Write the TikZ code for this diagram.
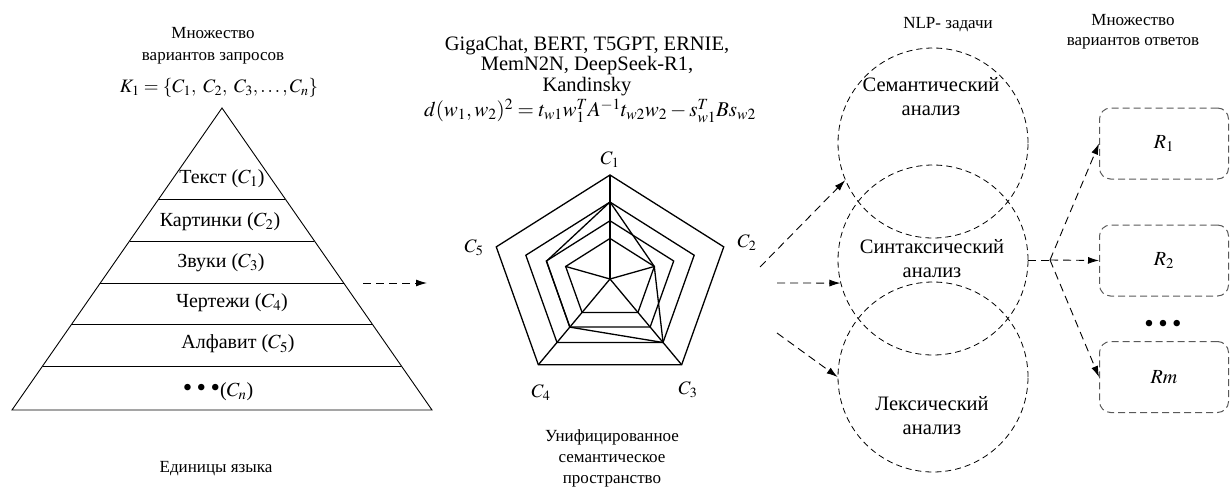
\documentclass[tikz,border=0pt]{standalone}
\usepackage{mathptmx}
\usepackage{fontspec}
\setmainfont{Liberation Serif}
\usetikzlibrary{arrows.meta, positioning, shapes.geometric, calc}

\newcommand{\bigdots}{{\fontsize{27}{27}\selectfont\textbullet\,\textbullet\,\textbullet}}

\begin{document}
\begin{tikzpicture}[x=1pt, y=-1pt, >={Latex[length=11pt, width=7pt]},
    lbl/.style={font=\fontsize{17}{21}\selectfont, align=center},
    layer/.style={font=\fontsize{20}{24}\selectfont, align=center},
    axis/.style={font=\fontsize{19}{21}\selectfont},
    dashline/.style={dash pattern=on 8pt off 5pt, line width=0.9pt},
    nlp/.style={circle, draw, dash pattern=on 6pt off 4pt, line width=0.8pt,
                minimum size=190pt, inner sep=0pt},
    resbox/.style={draw=black!65, dash pattern=on 7pt off 4pt, line width=1pt,
                   rounded corners=11pt, minimum width=129pt, minimum height=71pt,
                   font=\fontsize{20}{22}\selectfont},
    net/.style={line width=1.3pt, line join=miter}]
  \useasboundingbox (0,0) rectangle (1231,487);

  % Pyramid of language units
  \coordinate (apex) at (222,108);
  \coordinate (bl) at (12,410);
  \coordinate (br) at (432,410);
  \draw[line width=0.9pt] (apex) -- (bl) -- (br) -- cycle;
  \foreach \y in {199,241,283,324,366}
    \draw[line width=0.9pt] ($(apex)!{(\y-108)/302}!(bl)$) -- ($(apex)!{(\y-108)/302}!(br)$);

  \node[layer] (l1) at (222,179) {Текст ($C_1$)};
  \node[layer] (l2) at (220,222) {Картинки ($C_2$)};
  \node[layer] (l3) at (221,263) {Звуки ($C_3$)};
  \node[layer] (l4) at (232,303) {Чертежи ($C_4$)};
  \node[layer] (l5) at (238,344) {Алфавит ($C_5$)};
  \node[layer] (l6) at (218,392) {\bigdots($C_n$)};

  \node[lbl, font=\fontsize{17}{22}\selectfont] (qset) at (213,46) {Множество\\вариантов запросов};
  \node[font=\fontsize{19}{21}\selectfont] (kset) at (219,88)
    {$K_1=\left\{C_1,\ C_2,\ C_3,\ldots,C_n\right\}$};
  \node[lbl] (units) at (216,469) {Единицы языка};

  % Arrow to the semantic space
  \coordinate (pa) at (363,283);
  \coordinate (pb) at (427,283);
  \draw[dashline, ->] (pa) -- (pb);

  % Models and distance
  \node[font=\fontsize{20.5}{20.5}\selectfont, align=center, inner sep=0pt] (models) at (587,66)
    {GigaChat, BERT, T5GPT, ERNIE,\\MemN2N, DeepSeek-R1,\\Kandinsky};
  \node[font=\fontsize{21}{22}\selectfont, inner sep=0pt] (dist) at (590,111)
    {$d(w_1,w_2)^2=t_{w1}w_1^{T}A^{-1}t_{w2}w_2-s_{w1}^{T}Bs_{w2}$};

  % Radar chart
  \begin{scope}[shift={(610,279)}, xscale=1.15]
    \foreach \f in {1,0.74,0.56,0.39}
      \draw[net] (-90:{104*\f}) -- (-18:{104*\f}) -- (54:{106*\f})
        -- (126:{106*\f}) -- (198:{104*\f}) -- cycle;
    \draw[net] (-90:77) -- (-18:40.5) -- (54:78.5) -- (126:59.5) -- (198:58) -- cycle;
    \draw[net] (0,0) -- (-90:104);
    \draw[net] (0,0) -- (54:106);
    \draw[net] (0,0) -- (126:106);
    \draw[net] (0,0) -- (-18:40.5);
    \draw[net] (0,0) -- (198:40.5);
  \end{scope}
  \node[axis] (a1) at (610,160) {$C_1$};
  \node[axis] (a2) at (747,243) {$C_2$};
  \node[axis] (a3) at (688,390) {$C_3$};
  \node[axis] (a4) at (541,393) {$C_4$};
  \node[axis] (a5) at (474,248) {$C_5$};
  \node[lbl] (space) at (612,458)
    {Унифицированное\\семантическое\\пространство};

  % NLP tasks
  \node[lbl] (nlptitle) at (948,25) {NLP- задачи};
  \node[nlp] (sem) at (933,143) {};
  \node[nlp] (syn) at (933,260) {};
  \node[nlp] (lex) at (933,377) {};
  \node[layer, font=\fontsize{20.5}{24}\selectfont] (semt) at (931,97) {Семантический\\анализ};
  \node[layer, font=\fontsize{20.5}{24}\selectfont] (synt) at (932,259) {Синтаксический\\анализ};
  \node[layer, font=\fontsize{20.5}{24}\selectfont] (lext) at (932,416) {Лексический\\анализ};

  \coordinate (in1) at (760,267);
  \coordinate (in2) at (777,283);
  \coordinate (in3) at (777,333);
  \draw[dashline, ->] (in1) -- (sem.203);
  \draw[dashline, ->] (in2) -- (syn.194);
  \draw[dashline, ->] (in3) -- (lex.west);

  % Answers
  \node[lbl, font=\fontsize{17}{20}\selectfont] (anstitle) at (1133,32) {Множество\\вариантов ответов};
  \node[resbox] (r1) at (1164,143.5) {$R_1$};
  \node[resbox] (r2) at (1164,260.5) {$R_2$};
  \node[resbox] (rm) at (1164,377) {$Rm$};
  \node (more) at (1163,326) {\bigdots};

  \coordinate (split) at (1050,260);
  \draw[dashline] (syn.east) -- (split);
  \draw[dashline, ->] (split) -- (r1.west);
  \draw[dashline, ->] (split) -- (r2.west);
  \draw[dashline, ->] (split) -- (rm.west);
\end{tikzpicture}
\end{document}
